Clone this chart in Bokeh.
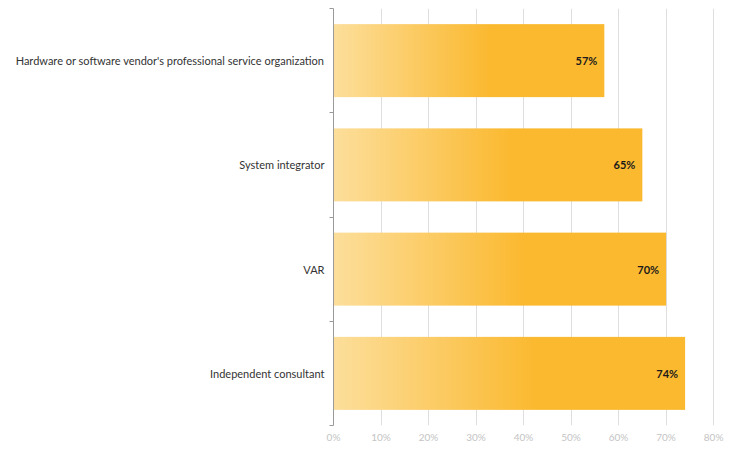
import numpy as np
from bokeh.plotting import figure
from bokeh.models import Range1d, FixedTicker, ColumnDataSource
from bokeh.core.properties import value
from bokeh.embed import file_html
from bokeh.resources import INLINE

# data (bottom to top)
categories = ["Independent consultant", "VAR", "System integrator",
              "Hardware or software vendor's professional service organization"]
values = [74, 70, 65, 57]
value_labels = ["74%", "70%", "65%", "57%"]
x_ticks = [0, 10, 20, 30, 40, 50, 60, 70, 80]
x_tick_labels = ["0%", "10%", "20%", "30%", "40%", "50%", "60%", "70%", "80%"]

FONT = "Lato"
c_light = np.array([253, 223, 156])
c_full = np.array([251, 185, 47])
grad_stop = 0.58

p = figure(width=730, height=447, output_backend="svg", toolbar_location=None,
           x_range=Range1d(0, 80.4), y_range=Range1d(0, len(categories)),
           min_border_left=333, min_border_right=15, min_border_top=8,
           min_border_bottom=22)
p.outline_line_color = None
p.background_fill_color = "white"
p.border_fill_color = "white"

# gradient bars drawn as images
N = 300
imgs, xs, ys, dws, dhs = [], [], [], [], []
bar_h = 0.7
for i, v in enumerate(values):
    t = np.linspace(0, 1, N)
    f = np.clip(t / grad_stop, 0, 1)[:, None]
    cols = (c_light[None, :] * (1 - f) + c_full[None, :] * f).astype(np.uint32)
    rgba = (255 << 24) | (cols[:, 2] << 16) | (cols[:, 1] << 8) | cols[:, 0]
    img = np.tile(rgba, (2, 1)).astype(np.uint32)
    imgs.append(img)
    xs.append(0)
    ys.append(i + 0.5 - bar_h / 2)
    dws.append(v)
    dhs.append(bar_h)
p.image_rgba(image=imgs, x=xs, y=ys, dw=dws, dh=dhs)

# value labels
src = ColumnDataSource(dict(x=values, y=[i + 0.5 for i in range(len(values))], t=value_labels))
p.text(x="x", y="y", text="t", source=src, text_align="right", text_baseline="middle",
       x_offset=-7, text_font=value(FONT), text_font_style="bold",
       text_font_size="11px", text_color="#1a1a1a")

# grid
p.ygrid.grid_line_color = None
p.xgrid.ticker = FixedTicker(ticks=x_ticks)
p.xgrid.grid_line_color = "#dedede"
p.xgrid.grid_line_width = 1

# x axis
xa = p.xaxis[0]
xa.ticker = FixedTicker(ticks=x_ticks)
xa.major_label_overrides = {t: l for t, l in zip(x_ticks, x_tick_labels)}
xa.axis_line_color = None
xa.major_tick_line_color = None
xa.major_tick_out = 0
xa.major_tick_in = 0
xa.minor_tick_line_color = None
xa.minor_tick_out = 0
xa.major_label_text_color = "#c4c4c4"
xa.major_label_text_font = FONT
xa.major_label_text_font_size = "10px"
xa.major_label_standoff = 5

# y axis
ya = p.yaxis[0]
centers = [i + 0.5 for i in range(len(categories))]
ya.ticker = FixedTicker(ticks=centers, minor_ticks=list(range(len(categories) + 1)))
ya.major_label_overrides = {c: n for c, n in zip(centers, categories)}
ya.major_tick_line_color = None
ya.major_tick_out = 0
ya.major_tick_in = 0
ya.minor_tick_in = 0
ya.minor_tick_out = 4
ya.minor_tick_line_color = "#9a9a9a"
ya.axis_line_color = "#9a9a9a"
ya.axis_line_width = 1
ya.major_label_text_color = "#333333"
ya.major_label_text_font = FONT
ya.major_label_text_font_size = "11px"
ya.major_label_standoff = 5

open("out.html", "w").write(file_html(p, INLINE))
